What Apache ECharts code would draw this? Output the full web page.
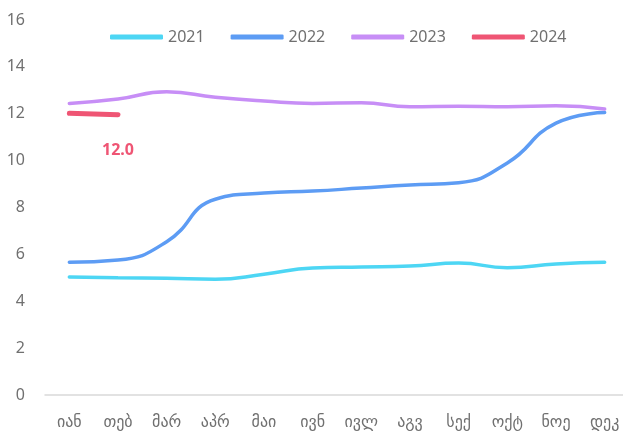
<!DOCTYPE html>
<html>
<head>
    <meta charset="utf-8">
    <title>ECharts</title>
    <script src="https://cdn.jsdelivr.net/npm/echarts@6/dist/echarts.min.js"></script>
</head>
<body style="margin:0">
    <div id="main" style="width: 623px;height:437px;"></div>
    <script>
        var months = ['იან', 'თებ', 'მარ', 'აპრ', 'მაი', 'ივნ', 'ივლ', 'აგვ', 'სექ', 'ოქტ', 'ნოე', 'დეკ'];
        var years = ['2021', '2022', '2023', '2024'];
        var v2021 = [5.03, 5.0, 4.98, 4.94, 5.15, 5.42, 5.46, 5.5, 5.63, 5.43, 5.59, 5.66];
        var v2022 = [5.66, 5.76, 6.54, 8.35, 8.62, 8.7, 8.83, 8.96, 9.06, 9.9, 11.6, 12.05];
        var v2023 = [12.44, 12.63, 12.94, 12.7, 12.54, 12.44, 12.47, 12.3, 12.32, 12.3, 12.34, 12.2];
        var v2024 = [12.02, 11.96];
        var colors = ['#4dd6f4', '#5d9cf4', '#c78ef6', '#ef5574'];

        var myChart = echarts.init(document.getElementById('main'));

        var lines = [v2021, v2022, v2023, v2024];
        var series = lines.map(function (d, i) {
            return {
                name: years[i],
                type: 'line',
                smooth: true,
                showSymbol: false,
                data: d,
                lineStyle: { width: i === 3 ? 5 : 3.5, color: colors[i], cap: 'round' },
                itemStyle: { color: colors[i] },
                z: i === 3 ? 5 : 2
            };
        });
        // value label under the last 2024 point
        series[3].showSymbol = true;
        series[3].symbolSize = 0.1;
        series[3].data = v2024.map(function (v, i) {
            return i === v2024.length - 1 ? {
                value: v,
                label: {
                    show: true,
                    position: 'bottom',
                    distance: 27,
                    formatter: function (p) { return p.value.toFixed(1); },
                    color: '#ef5574',
                    fontWeight: 'bold',
                    fontSize: 16,
                    fontFamily: 'Noto Sans'
                }
            } : v;
        });

        var option = {
            animation: false,
            color: colors,
            legend: {
                data: years,
                top: 24,
                left: 105,
                icon: 'roundRect',
                itemWidth: 53,
                itemHeight: 5,
                itemGap: 26,
                textStyle: { color: '#707070', fontSize: 16, fontFamily: 'Noto Sans' }
            },
            grid: { left: 45, width: 584, top: 20, bottom: 42, outerBoundsMode: 'none' },
            xAxis: {
                type: 'category',
                data: months,
                axisLine: { lineStyle: { color: '#d9d9d9', width: 1.5 } },
                axisTick: { show: false },
                axisLabel: { color: '#707070', fontSize: 16, margin: 20, fontFamily: 'DejaVu Sans' }
            },
            yAxis: {
                type: 'value',
                min: 0,
                max: 16,
                interval: 2,
                splitLine: { show: false },
                axisLabel: { color: '#707070', fontSize: 16, margin: 20, fontFamily: 'Noto Sans' }
            },
            series: series
        };

        myChart.setOption(option);
    </script>
</body>
</html>
